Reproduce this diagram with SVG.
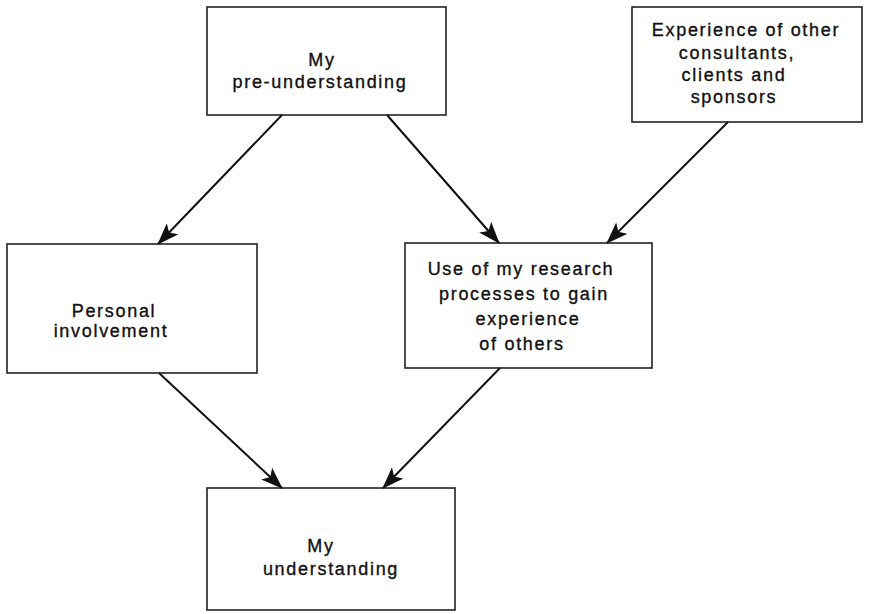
<svg xmlns="http://www.w3.org/2000/svg" width="874" height="614" viewBox="0 0 874 614">
<style>
.box{fill:#fff;stroke:#222;stroke-width:1.6}
.t{font-family:"Liberation Sans",Arial,sans-serif;font-size:18px;fill:#111;stroke:#111;stroke-width:0.35;text-anchor:middle;letter-spacing:1.7px}
.c{stroke:#111;stroke-width:2;fill:none;marker-end:url(#ah)}
</style>
<defs>
<marker id="ah" viewBox="0 0 22 16" refX="21" refY="8" markerWidth="22" markerHeight="16" markerUnits="userSpaceOnUse" orient="auto">
<path d="M0,0 L22,8 L0,16 L5,8 Z" fill="#111"/>
</marker>
</defs>
<rect width="874" height="614" fill="#fff"/>
<g id="n1"><rect class="box" x="207" y="7" width="239" height="108"/>
<text class="t" x="322" y="66">My</text><text class="t" x="320" y="88">pre-understanding</text></g>
<g id="n2"><rect class="box" x="632" y="7" width="230" height="115"/>
<text class="t" x="746" y="36">Experience of other</text><text class="t" x="737" y="59">consultants,</text><text class="t" x="734" y="81">clients and</text><text class="t" x="734" y="103">sponsors</text></g>
<g id="n3"><rect class="box" x="7" y="244" width="250" height="129"/>
<text class="t" x="114" y="317">Personal</text><text class="t" x="111" y="337">involvement</text></g>
<g id="n4"><rect class="box" x="405" y="243" width="247" height="125"/>
<text class="t" x="521" y="275">Use of my research</text><text class="t" x="524" y="300">processes to gain</text><text class="t" x="528" y="325">experience</text><text class="t" x="522" y="350">of others</text></g>
<g id="n5"><rect class="box" x="207" y="488" width="248" height="122"/>
<text class="t" x="321" y="552">My</text><text class="t" x="331" y="575">understanding</text></g>
<g id="connectors">
<line class="c" x1="282" y1="115" x2="158" y2="244"/>
<line class="c" x1="387" y1="115" x2="499" y2="243"/>
<line class="c" x1="728" y1="122" x2="607" y2="243"/>
<line class="c" x1="159" y1="373" x2="282" y2="488"/>
<line class="c" x1="500" y1="368" x2="383" y2="488"/>
</g>
</svg>
